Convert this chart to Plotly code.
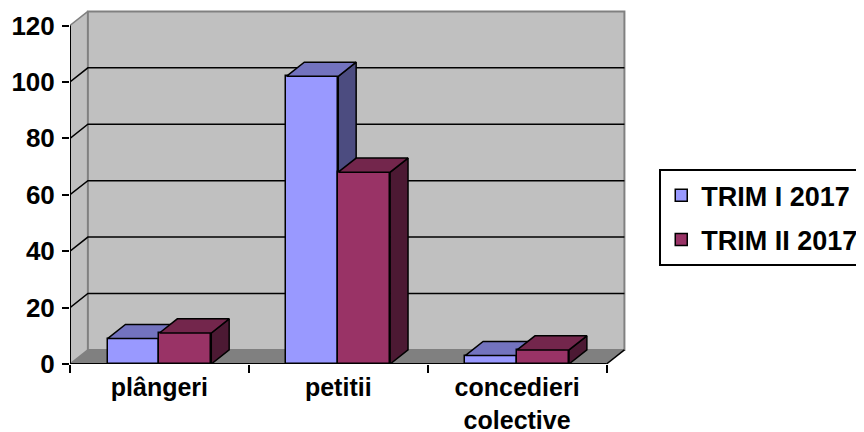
import plotly.graph_objects as go

categories = ["plângeri", "petitii", "concedieri<br>colective"]
trim1 = [9, 102, 3]
trim2 = [11, 68, 5]
series_names = ["TRIM I 2017", "TRIM II 2017"]
y_ticks = [0, 20, 40, 60, 80, 100, 120]

FONT = "Liberation Sans, Arial, sans-serif"
DX, DY = 0.1, 5.0          # depth offset of the 3D walls (data units)
BW = 0.29                   # bar width
YMAX = 120

front = {"I": "#9999FF", "II": "#993366"}
top_c = {"I": "#7373BF", "II": "#73264C"}
side_c = {"I": "#4C4C80", "II": "#4C1933"}

n = len(categories)
xi = list(range(n))
x_lo, x_hi = -0.5, n - 0.5

fig = go.Figure()


def faces(values, offset, key, xa, ya):
    tx, ty, sx, sy = [], [], [], []
    for i, v in enumerate(values):
        x0 = i + offset
        x1 = x0 + BW
        tx += [x0, x1, x1 + DX, x0 + DX, x0, None]
        ty += [v, v, v + DY, v + DY, v, None]
        sx += [x1, x1 + DX, x1 + DX, x1, x1, None]
        sy += [0, DY, v + DY, v, 0, None]
    fig.add_trace(go.Scatter(x=sx, y=sy, mode="lines", fill="toself",
                             fillcolor=side_c[key], line=dict(color="black", width=1.5),
                             showlegend=False, hoverinfo="skip", xaxis=xa, yaxis=ya))
    fig.add_trace(go.Scatter(x=tx, y=ty, mode="lines", fill="toself",
                             fillcolor=top_c[key], line=dict(color="black", width=1.5),
                             showlegend=False, hoverinfo="skip", xaxis=xa, yaxis=ya))


fig.add_trace(go.Bar(x=xi, y=trim1, width=BW, offset=-BW, name=series_names[0],
                     marker=dict(color=front["I"], line=dict(color="black", width=1.5)),
                     legendgroup="a", xaxis="x", yaxis="y"))
faces(trim1, -BW, "I", "x", "y")
fig.add_trace(go.Bar(x=xi, y=trim2, width=BW, offset=0, name=series_names[1],
                     marker=dict(color=front["II"], line=dict(color="black", width=1.5)),
                     legendgroup="b", xaxis="x2", yaxis="y2"))
faces(trim2, 0, "II", "x2", "y2")

shapes = []
# left side wall
shapes.append(dict(type="path", xref="x", yref="y", layer="below",
                   path=f"M{x_lo},0 L{x_lo+DX},{DY} L{x_lo+DX},{YMAX+DY} L{x_lo},{YMAX} Z",
                   fillcolor="#C0C0C0", line=dict(width=0)))
# back wall
shapes.append(dict(type="rect", xref="x", yref="y", layer="below",
                   x0=x_lo + DX, y0=DY, x1=x_hi + DX, y1=YMAX + DY,
                   fillcolor="#C0C0C0", line=dict(color="#808080", width=2)))
# floor
shapes.append(dict(type="path", xref="x", yref="y", layer="below",
                   path=f"M{x_lo},0 L{x_hi},0 L{x_hi+DX},{DY} L{x_lo+DX},{DY} Z",
                   fillcolor="#808080", line=dict(width=0)))
# gridlines on back and side wall
for v in y_ticks:
    col = "#808080" if v in (0, YMAX) else "black"
    path = f"M{x_lo},{v} L{x_lo+DX},{v+DY}"
    if v not in (0, YMAX):
        path += f" L{x_hi+DX},{v+DY}"
    shapes.append(dict(type="path", xref="x", yref="y", layer="below",
                       path=path, line=dict(color=col, width=1.5)))
# front axis lines
shapes.append(dict(type="line", xref="x", yref="y", layer="above",
                   x0=x_lo, y0=0, x1=x_lo, y1=YMAX, line=dict(color="black", width=2)))
shapes.append(dict(type="line", xref="x", yref="y", layer="above",
                   x0=x_lo, y0=0, x1=x_hi, y1=0, line=dict(color="black", width=2)))
shapes.append(dict(type="line", xref="x", yref="y", layer="above",
                   x0=x_hi, y0=0, x1=x_hi + DX, y1=DY, line=dict(color="black", width=1.5)))

xr = [x_lo, x_hi + DX + 0.02]
yr = [0, YMAX + DY + 0.5]

# the page body adds an 8px offset; figure is sized to fit the 864x432 window
W, H = 856, 424
L, B = 62, 68
PW = round(179 * (xr[1] - xr[0]))
PH = round(2.817 * yr[1])

fig.update_layout(
    width=W, height=H,
    margin=dict(l=L, r=W - L - PW, t=H - B - PH, b=B, autoexpand=False),
    paper_bgcolor="white", plot_bgcolor="white",
    shapes=shapes,
    font=dict(family=FONT, color="black"),
    showlegend=True,
    legend=dict(x=1.056, y=0.55, xanchor="left", yanchor="top",
                bordercolor="black", borderwidth=2, bgcolor="white",
                font=dict(family=FONT, size=27, weight="bold", color="black"),
                traceorder="grouped", tracegroupgap=6),
    xaxis=dict(range=xr, tickvals=[i - 0.5 for i in range(n + 1)], ticks="outside",
               ticklen=8, tickwidth=2, tickcolor="black", showticklabels=False,
               showgrid=False, zeroline=False, showline=False, fixedrange=True),
    xaxis2=dict(range=xr, overlaying="x", anchor="y2", side="bottom",
                tickvals=xi, ticktext=categories, ticks="", showgrid=False,
                zeroline=False, showline=False, ticklabelstandoff=6,
                tickfont=dict(family=FONT, size=25, weight="bold", color="black")),
    yaxis=dict(range=yr, tickvals=y_ticks, ticks="outside", ticklen=7, tickwidth=2,
               tickcolor="black", showgrid=False, zeroline=False, showline=False,
               ticklabelstandoff=2,
               tickfont=dict(family=FONT, size=26, weight="bold", color="black")),
    yaxis2=dict(range=yr, overlaying="y", visible=False),
    bargap=0,
)

fig.write_html("out.html")
